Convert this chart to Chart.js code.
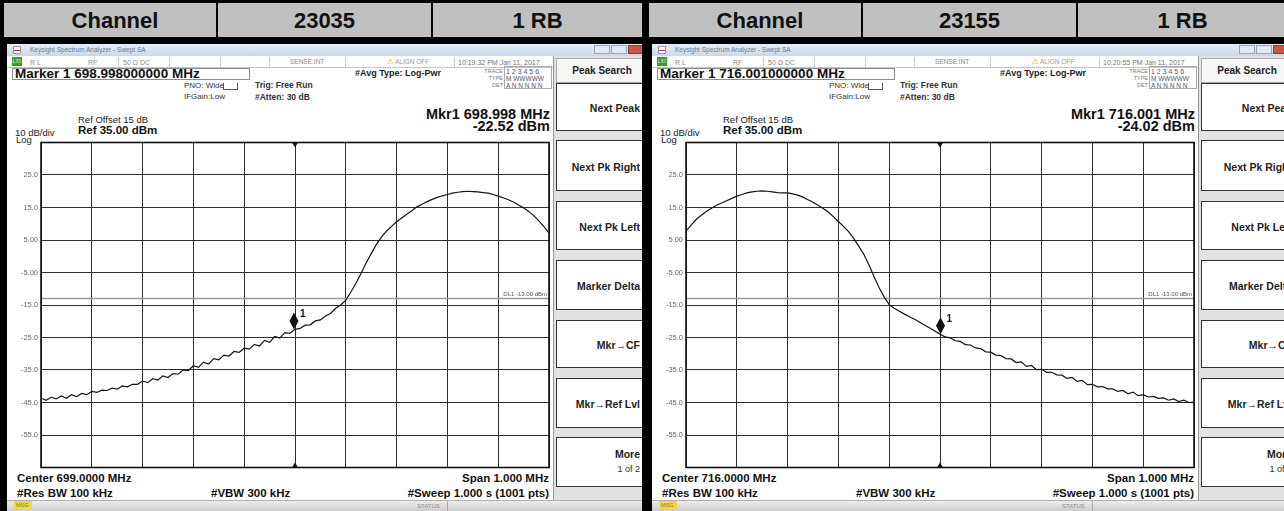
<!DOCTYPE html>
<html><head><meta charset="utf-8">
<script src="https://cdn.jsdelivr.net/npm/chart.js@4.4.1/dist/chart.umd.min.js"></script>
<style>
html,body{margin:0;padding:0;}
body{width:1284px;height:511px;overflow:hidden;background:#000;position:relative;font-family:"Liberation Sans",Arial,"DejaVu Sans",sans-serif;}
.bx{position:absolute;box-sizing:border-box;}
.tx{position:absolute;white-space:nowrap;}
</style></head><body>
<script>
// Channel 23035: 1 MHz sweep centred on 699 MHz
const freq23035 = [
  698.50,698.51,698.52,698.53,698.54,698.55,698.56,698.57,698.58,698.59,
  698.60,698.61,698.62,698.63,698.64,698.65,698.66,698.67,698.68,698.69,
  698.70,698.71,698.72,698.73,698.74,698.75,698.76,698.77,698.78,698.79,
  698.80,698.81,698.82,698.83,698.84,698.85,698.86,698.87,698.88,698.89,
  698.90,698.91,698.92,698.93,698.94,698.95,698.96,698.97,698.98,698.99,
  699.00,699.01,699.02,699.03,699.04,699.05,699.06,699.07,699.08,699.09,
  699.10,699.11,699.12,699.13,699.14,699.15,699.16,699.17,699.18,699.19,
  699.20,699.21,699.22,699.23,699.24,699.25,699.26,699.27,699.28,699.29,
  699.30,699.31,699.32,699.33,699.34,699.35,699.36,699.37,699.38,699.39,
  699.40,699.41,699.42,699.43,699.44,699.45,699.46,699.47,699.48,699.49,
  699.50
];
const level23035 = [
  -43.6,-44.3,-43.4,-43.9,-43.0,-43.7,-42.6,-43.2,-42.2,-42.6,
  -41.6,-41.9,-41.2,-41.3,-40.6,-40.9,-39.9,-40.2,-39.4,-39.4,
  -38.4,-38.9,-37.7,-38.1,-36.8,-37.3,-36.1,-36.3,-35.0,-35.2,
  -33.7,-34.2,-32.6,-33.2,-31.5,-31.9,-30.4,-30.7,-29.3,-29.6,
  -28.3,-28.6,-27.1,-27.6,-25.9,-26.5,-24.7,-25.2,-23.5,-23.7,
  -22.5,-22.2,-21.2,-21.1,-19.9,-19.6,-18.4,-17.6,-16.0,-15.0,
  -13.5,-11.0,-8.3,-5.3,-2.1,0.8,3.6,5.9,7.7,9.2,
  10.6,11.8,12.9,14.0,15.2,16.0,16.8,17.5,18.1,18.6,
  19.0,19.4,19.7,19.9,20.0,19.9,19.8,19.6,19.4,19.0,
  18.5,18.0,17.4,16.7,15.8,14.9,13.8,12.5,10.9,9.1,
  7.2
];

// Channel 23155: 1 MHz sweep centred on 716 MHz
const freq23155 = [
  715.50,715.51,715.52,715.53,715.54,715.55,715.56,715.57,715.58,715.59,
  715.60,715.61,715.62,715.63,715.64,715.65,715.66,715.67,715.68,715.69,
  715.70,715.71,715.72,715.73,715.74,715.75,715.76,715.77,715.78,715.79,
  715.80,715.81,715.82,715.83,715.84,715.85,715.86,715.87,715.88,715.89,
  715.90,715.91,715.92,715.93,715.94,715.95,715.96,715.97,715.98,715.99,
  716.00,716.01,716.02,716.03,716.04,716.05,716.06,716.07,716.08,716.09,
  716.10,716.11,716.12,716.13,716.14,716.15,716.16,716.17,716.18,716.19,
  716.20,716.21,716.22,716.23,716.24,716.25,716.26,716.27,716.28,716.29,
  716.30,716.31,716.32,716.33,716.34,716.35,716.36,716.37,716.38,716.39,
  716.40,716.41,716.42,716.43,716.44,716.45,716.46,716.47,716.48,716.49,
  716.50
];
const level23155 = [
  7.7,9.6,11.3,12.6,13.8,14.8,15.7,16.4,17.1,17.8,
  18.5,19.0,19.5,19.8,20.0,20.1,20.0,19.8,19.6,19.5,
  19.5,19.2,18.8,18.2,17.4,16.6,15.7,14.7,13.6,12.2,
  10.7,9.2,7.6,5.5,3.1,0.6,-2.6,-6.2,-9.6,-12.5,
  -14.9,-16.0,-16.9,-17.8,-18.6,-19.4,-20.3,-21.2,-22.1,-23.0,
  -24.0,-24.8,-25.1,-26.0,-26.2,-27.2,-27.3,-28.2,-28.4,-29.4,
  -29.5,-30.4,-30.6,-31.5,-31.6,-32.7,-32.5,-33.9,-33.6,-34.9,
  -34.8,-35.7,-35.7,-36.5,-36.6,-37.6,-37.3,-38.5,-38.2,-39.5,
  -39.4,-40.2,-40.1,-40.8,-40.8,-41.6,-41.3,-42.3,-41.8,-42.9,
  -42.6,-43.3,-43.1,-43.7,-43.6,-44.3,-43.9,-44.7,-44.3,-45.0,
  -44.9
];

const channels = ['23035', '23155'];
const centerFreq = [699.0, 716.0];
const markerFreq = [698.998, 716.001];
const markerLevel = [-22.52, -24.02];
const sweepClock = ['10:19:32 PM Jan 11, 2017', '10:20:55 PM Jan 11, 2017'];
const yTickValues = [25, 15, 5, -5, -15, -25, -35, -45, -55];
const yTickLabels = ['25.0', '15.0', '5.00', '-5.00', '-15.0', '-25.0', '-35.0', '-45.0', '-55.0'];
const softkeyLabels = ['Next Peak', 'Next Pk Right', 'Next Pk Left', 'Marker Delta', 'Mkr\u2192CF', 'Mkr\u2192Ref Lvl'];

const rbLabel = '1 RB';
const refLevel = 35;
const dbPerDiv = 10;
const displayLine = -13;
const spanMHz = 1.0;

const FONT = '"Liberation Sans", Arial, "DejaVu Sans", sans-serif';

function box(parent, x, y, w, h, css) {
  const d = document.createElement('div');
  d.className = 'bx';
  Object.assign(d.style, {left: x + 'px', top: y + 'px', width: w + 'px', height: h + 'px'}, css || {});
  parent.appendChild(d);
  return d;
}

function txt(parent, x, y, s, o) {
  o = o || {};
  const size = o.size || 10;
  const lh = Math.round(size * 1.3);
  const d = document.createElement('div');
  d.className = 'tx';
  const css = {top: (y - lh / 2) + 'px', height: lh + 'px', lineHeight: lh + 'px', fontSize: size + 'px',
    fontWeight: o.bold ? 'bold' : 'normal', color: o.color || '#111'};
  if (o.align === 'right') { css.left = (x - 400) + 'px'; css.width = '400px'; css.textAlign = 'right'; }
  else if (o.align === 'center') { css.left = (x - 200) + 'px'; css.width = '400px'; css.textAlign = 'center'; }
  else css.left = x + 'px';
  Object.assign(d.style, css);
  d.textContent = s;
  parent.appendChild(d);
  return d;
}

function overlay(idx) {
  return {
    id: 'analyzerOverlay' + idx,
    afterDatasetsDraw(chart) {
      const {ctx, chartArea: a, scales: {x, y}} = chart;
      ctx.save();
      // graticule frame
      ctx.strokeStyle = '#111';
      ctx.lineWidth = 1.6;
      ctx.strokeRect(a.left, a.top, a.right - a.left, a.bottom - a.top);
      // display line label
      ctx.fillStyle = '#555';
      ctx.font = '6px ' + FONT;
      ctx.textAlign = 'right';
      ctx.textBaseline = 'middle';
      ctx.fillText('DL1 ' + displayLine.toFixed(2) + ' dBm', a.right - 2, y.getPixelForValue(displayLine) - 4);
      // centre frequency ticks
      const cx = x.getPixelForValue(centerFreq[idx]);
      ctx.fillStyle = '#111';
      ctx.beginPath();
      ctx.moveTo(cx - 3, a.top); ctx.lineTo(cx + 3, a.top); ctx.lineTo(cx, a.top + 5); ctx.closePath(); ctx.fill();
      ctx.beginPath();
      ctx.moveTo(cx - 3, a.bottom); ctx.lineTo(cx + 3, a.bottom); ctx.lineTo(cx, a.bottom - 5); ctx.closePath(); ctx.fill();
      // marker 1 diamond sitting on the trace
      const mx = x.getPixelForValue(markerFreq[idx]);
      const my = y.getPixelForValue(markerLevel[idx]);
      ctx.beginPath();
      ctx.moveTo(mx, my); ctx.lineTo(mx + 4.5, my - 8.5); ctx.lineTo(mx, my - 17); ctx.lineTo(mx - 4.5, my - 8.5);
      ctx.closePath(); ctx.fill();
      ctx.font = 'bold 10px ' + FONT;
      ctx.textAlign = 'left';
      ctx.fillText('1', mx + 6, my - 15);
      ctx.restore();
    }
  };
}

function makeChart(canvas, freq, level, idx) {
  const fmin = centerFreq[idx] - spanMHz / 2;
  const fmax = centerFreq[idx] + spanMHz / 2;
  return new Chart(canvas, {
    type: 'line',
    data: {
      datasets: [
        {data: freq.map((f, i) => ({x: f, y: level[i]})), borderColor: '#141414', borderWidth: 1.2,
          pointRadius: 0, tension: 0, order: 1},
        {data: [{x: fmin, y: displayLine}, {x: fmax, y: displayLine}], borderColor: '#9c9c9c',
          borderWidth: 1.6, pointRadius: 0, order: 2}
      ]
    },
    options: {
      responsive: false, animation: false, devicePixelRatio: 1,
      layout: {padding: {left: 0, right: 5, top: 5, bottom: 5}},
      plugins: {legend: {display: false}, tooltip: {enabled: false}},
      scales: {
        x: {type: 'linear', min: fmin, max: fmax,
          ticks: {display: false, stepSize: spanMHz / 10},
          grid: {color: '#2e2e2e', lineWidth: 1, drawTicks: false}, border: {display: false},
          afterFit(s) { s.height = 0; }},
        y: {min: refLevel - 10 * dbPerDiv, max: refLevel,
          ticks: {stepSize: dbPerDiv, padding: 3, color: '#6a6a6a', font: {family: FONT, size: 7.5},
            callback(v) { const k = yTickValues.indexOf(v); return k < 0 ? '' : yTickLabels[k]; }},
          grid: {color: '#2e2e2e', lineWidth: 1, drawTicks: false}, border: {display: false},
          afterFit(s) { s.width = 37; }}
      }
    },
    plugins: [overlay(idx)]
  });
}

function buildPanel(idx, freq, level) {
  const dx = idx === 0 ? 0 : 645;
  const wrapW = idx === 0 ? 642 : 1284 - 645;
  const keyRight = idx === 0 ? 640 : 647;
  const w = box(document.body, dx, 0, wrapW, 511, {overflow: 'hidden'});

  // table header row
  const cells = [[4, 212, 'Channel'], [218, 213, channels[idx]], [433, 209, rbLabel]];
  cells.forEach((c, i) => {
    const b = box(w, c[0], 3, c[1], 34, {background: '#c0c0c0'});
    txt(b, c[1] / 2 + (i === 0 ? 5 : 0), 17, c[2], {size: 22, bold: true, align: 'center', color: '#111'});
  });

  // analyzer window
  const win = box(w, 7, 44, 700, 467, {background: '#fff'});
  const W = (x, y, ww, h, css) => box(win, x - 7, y - 44, ww, h, css);
  const T = (x, y, s, o) => txt(win, x - 7, y - 44, s, o);

  // title bar
  W(7, 44, 700, 12, {background: 'linear-gradient(#e6eef7,#c9d8ea)'});
  W(13, 46, 8, 8, {background: 'linear-gradient(#fff 0 45%,#c8312a 45% 70%,#fff 70%)', border: '1px solid #999'});
  T(30, 50, 'Keysight Spectrum Analyzer - Swept SA', {size: 6.5, color: '#6b7a8c'});
  W(594, 45, 16, 9, {background: '#dfe7f1', border: '1px solid #9aa8ba'});
  W(611, 45, 16, 9, {background: '#dfe7f1', border: '1px solid #9aa8ba'});
  W(628, 45, 20, 9, {background: '#c9574d', border: '1px solid #8e3a33'});

  // status row
  W(7, 56, 548, 12, {background: '#fff', borderBottom: '1px solid #c4c4c4'});
  W(12, 57, 10, 9, {background: '#3c9b2a'});
  T(12.5, 61.5, 'LXI', {size: 5.5, color: '#dff5d8'});
  T(30, 62, 'R L', {size: 7, color: '#8a8a8a'});
  T(88, 62, 'RF', {size: 7, color: '#8a8a8a'});
  W(118, 57, 52, 10, {borderLeft: '1px solid #ccc', borderRight: '1px solid #ccc'});
  T(123, 62, '50 \u03A9   DC', {size: 7, color: '#8a8a8a'});
  W(220, 57, 50, 10, {borderLeft: '1px solid #ccc', borderRight: '1px solid #ccc'});
  T(290, 62, 'SENSE:INT', {size: 6.5, color: '#8a8a8a'});
  W(345, 57, 110, 10, {borderLeft: '1px solid #ccc', borderRight: '1px solid #ccc'});
  T(387, 62, '\u26A0', {size: 7.5, color: '#d6a400'});
  T(395, 62, 'ALIGN OFF', {size: 6.5, color: '#9a9a9a'});
  T(458, 62, sweepClock[idx], {size: 7, color: '#777'});

  // marker readout box
  W(12, 68, 238, 12, {border: '1px solid #8c8c8c', background: '#fff'});
  T(15, 74, 'Marker 1 ' + markerFreq[idx].toFixed(9) + ' MHz', {size: 13.5, bold: true});

  T(184, 86, 'PNO: Wide', {size: 8, color: '#333'});
  W(223, 83, 15, 7, {border: '1px solid #555', borderTop: 'none'});
  T(184, 97, 'IFGain:Low', {size: 8, color: '#333'});
  T(255, 85, 'Trig: Free Run', {size: 8.5, bold: true, color: '#333'});
  T(255, 97, '#Atten: 30 dB', {size: 8.5, bold: true, color: '#333'});
  T(355, 73, '#Avg Type: Log-Pwr', {size: 9, bold: true, color: '#222'});

  // trace status box
  T(503, 71, 'TRACE', {size: 5.5, align: 'right', color: '#777'});
  T(503, 78.5, 'TYPE', {size: 5.5, align: 'right', color: '#777'});
  T(503, 85.5, 'DET', {size: 5.5, align: 'right', color: '#777'});
  W(504, 66, 48, 23, {border: '1px solid #aaa'});
  T(506, 71, '1 2 3 4 5 6', {size: 7, color: '#556'});
  T(506, 78.5, 'M WWWWW', {size: 6.5, color: '#556'});
  T(506, 85.5, 'A N N N N N', {size: 6.5, color: '#556'});

  T(550, 114, 'Mkr1 ' + markerFreq[idx].toFixed(3) + ' MHz', {size: 14.5, bold: true, align: 'right'});
  T(550, 126, markerLevel[idx].toFixed(2) + ' dBm', {size: 14.5, bold: true, align: 'right'});

  T(78, 119.5, 'Ref Offset 15 dB', {size: 9.5, color: '#222'});
  T(78, 130.5, 'Ref ' + refLevel.toFixed(2) + ' dBm', {size: 11.5, bold: true});
  T(15, 132.5, dbPerDiv + ' dB/div', {size: 9.5, color: '#222'});
  T(16, 140, 'Log', {size: 9.5, color: '#222'});

  // bottom annotations
  T(17, 478, 'Center ' + centerFreq[idx].toFixed(4) + ' MHz', {size: 11.5, bold: true});
  T(17, 493, '#Res BW 100 kHz', {size: 11.5, bold: true});
  T(211, 493, '#VBW 300 kHz', {size: 11.5, bold: true});
  T(549, 478, 'Span ' + spanMHz.toFixed(3) + ' MHz', {size: 11.5, bold: true, align: 'right'});
  T(549, 493, '#Sweep  1.000 s (1001 pts)', {size: 11.5, bold: true, align: 'right'});

  // status bar
  W(7, 500, 700, 11, {background: 'linear-gradient(#ececec,#cdcdcd)', borderTop: '1px solid #b0b0b0'});
  W(14, 501, 18, 9, {background: '#f1d64a'});
  T(16, 505.5, 'MSG', {size: 5.5, color: '#8a7a2a'});
  W(447, 501, 1, 10, {background: '#aaa'});
  T(417, 506, 'STATUS', {size: 6, color: '#8a8a8a'});

  // softkey panel
  W(553, 56, 160, 444, {background: '#e2e2e2', borderLeft: '1px solid #999'});
  W(556, 58, 160, 25, {background: '#f6f6f6', border: '1px solid #aaa'});
  T(602, 70, 'Peak Search', {size: 10, bold: true, align: 'center', color: '#222'});
  const keys = [[83, 131], [140, 191], [201, 250], [260, 310], [320, 368], [378, 428], [437, 487]];
  keys.forEach((k, i) => {
    W(556, k[0], 160, k[1] - k[0], {background: '#fff', border: '1.5px solid #333'});
    if (i < softkeyLabels.length) {
      T(keyRight, (k[0] + k[1]) / 2 + 1, softkeyLabels[i], {size: 10.5, bold: true, align: 'right', color: '#222'});
    }
  });
  T(keyRight, 454, 'More', {size: 10.5, bold: true, align: 'right', color: '#222'});
  T(keyRight, 469, '1 of 2', {size: 9, align: 'right', color: '#333'});

  // spectrum graticule
  const cv = document.createElement('canvas');
  cv.width = 550; cv.height = 340;
  Object.assign(cv.style, {position: 'absolute', left: (4 - 7) + 'px', top: (135 - 44) + 'px'});
  win.appendChild(cv);
  makeChart(cv, freq, level, idx);
}

buildPanel(0, freq23035, level23035);
buildPanel(1, freq23155, level23155);
</script>
</body></html>
